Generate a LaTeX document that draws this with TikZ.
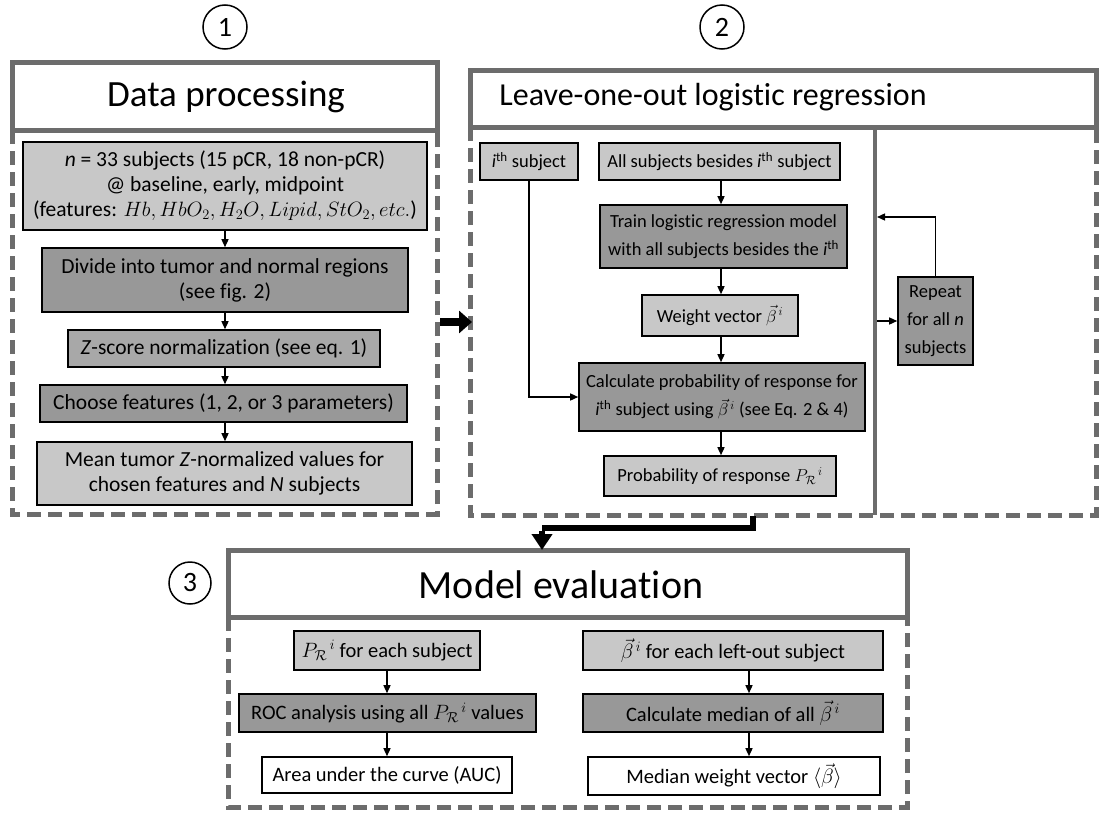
\documentclass[tikz,border=0pt]{standalone}
\usepackage{amsmath}
\usepackage{fontspec}
\setmainfont{Carlito}[Ligatures=NoCommon]
\usetikzlibrary{arrows.meta}
\definecolor{lightfill}{RGB}{200,200,200}
\definecolor{midfill}{RGB}{168,168,168}
\definecolor{darkfill}{RGB}{152,152,152}
\definecolor{framegray}{RGB}{108,108,108}
\newcommand{\ith}{\textit{i}\textsuperscript{th}}
\newcommand{\PR}{$P_{\mathcal{R}}{}^{\,i}$}
\newcommand{\bvec}{$\vec{\beta}^{\,i}$}
\begin{document}
\begin{tikzpicture}[x=1pt,y=-1pt,
  box/.style={draw=black, line width=1.6pt, inner sep=0pt, align=center},
  pA/.style={font=\fontsize{21.5}{25}\selectfont},
  pB/.style={font=\fontsize{18.5}{28}\selectfont},
  pC/.style={font=\fontsize{20.5}{25}\selectfont},
  lightbox/.style={box, fill=lightfill},
  midbox/.style={box, fill=midfill},
  darkbox/.style={box, fill=darkfill},
  whitebox/.style={box, fill=white},
  solidframe/.style={draw=framegray, line width=5pt},
  dashframe/.style={draw=framegray, line width=5pt, dash pattern=on 14pt off 7pt},
  numcirc/.style={draw=black, circle, line width=1.5pt, minimum size=44pt, inner sep=0pt,
    font=\fontsize{28}{30}\selectfont},
  arr/.style={-{Triangle[length=8pt,width=7pt]}, line width=1.4pt},
  bigarr/.style={-{Triangle[length=13pt,width=22pt]}, line width=8pt},
  bigarrb/.style={-{Triangle[length=16pt,width=20pt]}, line width=6pt}
]
\useasboundingbox (0,0) rectangle (1099,814);

% ---------- Panel 1 ----------
\node[numcirc] (n1) at (225,27) {1};
\draw[solidframe] (12,62) rectangle (437,130);
\node[font=\fontsize{37}{40}\selectfont] (t1) at (226,97) {Data processing};
\draw[dashframe] (12,130) -- (12,514) -- (437,514) -- (437,130);

\node[lightbox, pA, minimum width=404pt, minimum height=88pt] (A) at (225,186)
  {\textit{n} = 33 subjects (15 pCR, 18 non-pCR)\\ @ baseline, early, midpoint\\
   (features: $Hb, HbO_2, H_2O, Lipid, StO_2, etc.$)};
\node[darkbox, pA, minimum width=366pt, minimum height=64pt] (B) at (225,280)
  {Divide into tumor and normal regions\\(see fig. 2)};
\node[midbox, pA, minimum width=312pt, minimum height=37pt] (C) at (224,348.5)
  {\textit{Z}-score normalization (see eq. 1)};
\node[darkbox, pA, minimum width=367pt, minimum height=37pt] (D) at (223.5,403.5)
  {Choose features (1, 2, or 3 parameters)};
\node[lightbox, pA, minimum width=375pt, minimum height=63pt] (E) at (224.5,473.5)
  {Mean tumor \textit{Z}-normalized values for\\chosen features and \textit{N} subjects};

\coordinate (ax1) at (225,0);
\draw[arr] (ax1 |- A.south) -- (ax1 |- B.north);
\draw[arr] (ax1 |- B.south) -- (ax1 |- C.north);
\draw[arr] (ax1 |- C.south) -- (ax1 |- D.north);
\draw[arr] (ax1 |- D.south) -- (ax1 |- E.north);

% ---------- Panel 2 ----------
\node[numcirc] (n2) at (722,27) {2};
\draw[solidframe] (470,70) -- (1096,70) -- (1096,127) -- (470,127) -- cycle;
\node[font=\fontsize{32}{36}\selectfont] (t2) at (713,97) {Leave-one-out logistic regression};
\draw[dashframe] (470,127) -- (470,515) -- (1096,515) -- (1096,127);
\draw[draw=framegray, line width=4pt] (875,127) -- (875,515);

\node[lightbox, pB, minimum width=98pt, minimum height=37pt] (ith) at (529,161.5)
  {\ith{} subject};
\node[lightbox, pB, minimum width=241pt, minimum height=37pt] (all) at (719.5,161.5)
  {All subjects besides \ith{} subject};
\node[darkbox, pB, minimum width=247pt, minimum height=63pt] (train) at (723.5,236.5)
  {Train logistic regression model\\with all subjects besides the \ith};
\node[lightbox, pB, minimum width=156pt, minimum height=41pt] (wv) at (720,315.5)
  {Weight vector \bvec};
\node[darkbox, pB, minimum width=286pt, minimum height=68pt] (calc) at (722,397)
  {Calculate probability of response for\\\ith{} subject using \bvec{} (see Eq. 2 \& 4)};
\node[lightbox, pB, minimum width=232pt, minimum height=40pt] (prob) at (720,476)
  {Probability of response \PR};
\node[darkbox, pB, minimum width=75pt, minimum height=88pt] (rep) at (935.5,321)
  {Repeat\\for all \textit{n}\\subjects};

\coordinate (ax2) at (721,0);
\draw[arr] (ax2 |- all.south) -- (ax2 |- train.north);
\draw[arr] (ax2 |- train.south) -- (ax2 |- wv.north);
\draw[arr] (ax2 |- wv.south) -- (ax2 |- calc.north);
\draw[arr] (ax2 |- calc.south) -- (ax2 |- prob.north);
\draw[arr] (ith.south) |- (calc.west);
\coordinate (d1) at (877,217);
\coordinate (d2) at (877,321);
\draw[arr] (rep.north) |- (d1);
\draw[arr] (d2) -- (rep.west);

% panel 1 -> panel 2
\coordinate (p1r) at (440,322);
\coordinate (p2l) at (472,322);
\draw[bigarr] (p1r) -- (p2l);

% ---------- Panel 3 ----------
\node[numcirc, minimum size=42pt] (n3) at (190,583) {3};
\draw[solidframe] (228,550) rectangle (907,617);
\node[font=\fontsize{40}{44}\selectfont] (t3) at (561,585) {Model evaluation};
\draw[dashframe] (228,617) -- (228,807) -- (907,807) -- (907,617);

\node[lightbox, pC, minimum width=186pt, minimum height=39pt] (pr) at (387,650.5)
  {\PR{} for each subject};
\node[darkbox, pC, minimum width=297pt, minimum height=38pt] (roc) at (387.5,713)
  {ROC analysis using all \PR{} values};
\node[whitebox, pC, minimum width=250pt, minimum height=36pt] (auc) at (387,775)
  {Area under the curve (AUC)};
\node[lightbox, pC, minimum width=300pt, minimum height=39pt] (be) at (733,650.5)
  {\bvec{} for each left-out subject};
\node[darkbox, pC, minimum width=300pt, minimum height=38pt] (med) at (733,713)
  {Calculate median of all \bvec};
\node[whitebox, pC, minimum width=292pt, minimum height=38pt] (mw) at (734,776)
  {Median weight vector $\langle\vec{\beta}\rangle$};

\coordinate (ax3) at (387,0);
\coordinate (ax4) at (749,0);
\draw[arr] (ax3 |- pr.south) -- (ax3 |- roc.north);
\draw[arr] (ax3 |- roc.south) -- (ax3 |- auc.north);
\draw[arr] (ax4 |- be.south) -- (ax4 |- med.north);
\draw[arr] (ax4 |- med.south) -- (ax4 |- mw.north);

% panel 2 -> panel 3
\coordinate (q1) at (753,516);
\coordinate (qm) at (542,528);
\coordinate (q2) at (542,550);
\draw[line width=6pt] (q1) |- (qm);
\draw[bigarrb] ([yshift=-3pt]qm) -- (q2);
\end{tikzpicture}
\end{document}
